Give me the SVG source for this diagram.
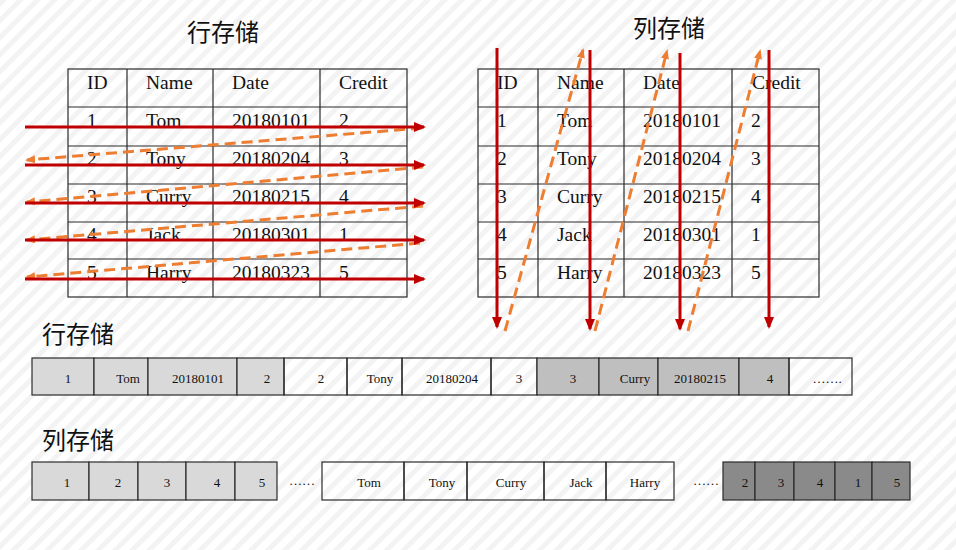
<svg xmlns="http://www.w3.org/2000/svg" width="956" height="550" viewBox="0 0 956 550">
<defs>
<pattern id="hatch" patternUnits="userSpaceOnUse" width="12" height="12" patternTransform="rotate(45)">
<rect x="0" y="0" width="5" height="12" fill="#f3f3f3"/>
</pattern>
<marker id="redArrow" viewBox="0 0 12 10" markerWidth="12" markerHeight="10" refX="10" refY="5" orient="auto" markerUnits="userSpaceOnUse">
<path d="M0,0 L12,5 L0,10 z" fill="#c00000"/>
</marker>
<marker id="orangeArrow" viewBox="0 0 10 8" markerWidth="10" markerHeight="8" refX="8" refY="4" orient="auto" markerUnits="userSpaceOnUse">
<path d="M0,0 L10,4 L0,8 z" fill="#ed7d31"/>
</marker>
</defs>
<style>
.grid{fill:none;stroke:#2b2b2b;stroke-width:1.2}
.tt{font-family:"Liberation Serif","Times New Roman",serif;font-size:19.5px;fill:#111}
.st{font-family:"Liberation Serif","Times New Roman",serif;font-size:13px;fill:#111;text-anchor:middle}
.title{font-family:"Noto Sans CJK SC","Noto Sans",sans-serif;font-size:24px;fill:#111}
.cell{stroke:#2b2b2b;stroke-width:1.2}
.g1{fill:#d9d9d9}
.g2{fill:#bfbfbf}
.g3{fill:#8a8a8a}
.w{fill:none}
.red{stroke:#c00000;stroke-width:3;fill:none;marker-end:url(#redArrow)}
.org{stroke:#ed7d31;stroke-width:3;fill:none;stroke-dasharray:11 6;marker-end:url(#orangeArrow)}
</style>
<rect width="956" height="550" fill="#ffffff"/>
<rect width="956" height="550" fill="url(#hatch)"/>

<g id="title-row-top"><text class="title" x="187" y="41">行存储</text></g>
<g id="title-col-top"><text class="title" x="633" y="37">列存储</text></g>
<g id="title-row-bottom"><text class="title" x="42" y="343">行存储</text></g>
<g id="title-col-bottom"><text class="title" x="42" y="449">列存储</text></g>

<g id="row-table">
<rect class="grid" x="68" y="69" width="339" height="228"/>
<path class="grid" d="M127,69V297M213,69V297M320,69V297M68,107H407M68,146H407M68,184H407M68,222H407M68,259H407"/>
<text class="tt" x="87" y="89">ID</text><text class="tt" x="146" y="89">Name</text><text class="tt" x="232" y="89">Date</text><text class="tt" x="339" y="89">Credit</text>
<text class="tt" x="87" y="127">1</text><text class="tt" x="146" y="127">Tom</text><text class="tt" x="232" y="127">20180101</text><text class="tt" x="339" y="127">2</text>
<text class="tt" x="87" y="165">2</text><text class="tt" x="146" y="165">Tony</text><text class="tt" x="232" y="165">20180204</text><text class="tt" x="339" y="165">3</text>
<text class="tt" x="87" y="203">3</text><text class="tt" x="146" y="203">Curry</text><text class="tt" x="232" y="203">20180215</text><text class="tt" x="339" y="203">4</text>
<text class="tt" x="87" y="241">4</text><text class="tt" x="146" y="241">Jack</text><text class="tt" x="232" y="241">20180301</text><text class="tt" x="339" y="241">1</text>
<text class="tt" x="87" y="279">5</text><text class="tt" x="146" y="279">Harry</text><text class="tt" x="232" y="279">20180323</text><text class="tt" x="339" y="279">5</text>
</g>

<g id="col-table">
<rect class="grid" x="478" y="69" width="341" height="228"/>
<path class="grid" d="M538,69V297M624,69V297M732,69V297M478,107H819M478,146H819M478,184H819M478,222H819M478,259H819"/>
<text class="tt" x="497" y="89">ID</text><text class="tt" x="557" y="89">Name</text><text class="tt" x="643" y="89">Date</text><text class="tt" x="752" y="89">Credit</text>
<text class="tt" x="497" y="127">1</text><text class="tt" x="557" y="127">Tom</text><text class="tt" x="643" y="127">20180101</text><text class="tt" x="751" y="127">2</text>
<text class="tt" x="497" y="165">2</text><text class="tt" x="557" y="165">Tony</text><text class="tt" x="643" y="165">20180204</text><text class="tt" x="751" y="165">3</text>
<text class="tt" x="497" y="203">3</text><text class="tt" x="557" y="203">Curry</text><text class="tt" x="643" y="203">20180215</text><text class="tt" x="751" y="203">4</text>
<text class="tt" x="497" y="241">4</text><text class="tt" x="557" y="241">Jack</text><text class="tt" x="643" y="241">20180301</text><text class="tt" x="751" y="241">1</text>
<text class="tt" x="497" y="279">5</text><text class="tt" x="557" y="279">Harry</text><text class="tt" x="643" y="279">20180323</text><text class="tt" x="751" y="279">5</text>
</g>

<g id="connectors">
<line class="org" x1="422" y1="128" x2="27" y2="160"/>
<line class="org" x1="423" y1="167" x2="27" y2="202"/>
<line class="org" x1="423" y1="206" x2="27" y2="240"/>
<line class="org" x1="420" y1="243" x2="27" y2="277"/>
<line class="red" x1="25" y1="127" x2="424" y2="127"/>
<line class="red" x1="25" y1="165" x2="424" y2="165"/>
<line class="red" x1="25" y1="203" x2="424" y2="203"/>
<line class="red" x1="25" y1="240" x2="424" y2="240"/>
<line class="red" x1="25" y1="279" x2="424" y2="279"/>
<line class="org" x1="505" y1="331" x2="583" y2="50"/>
<line class="org" x1="595" y1="331" x2="667" y2="51"/>
<line class="org" x1="688" y1="331" x2="760" y2="51"/>
<line class="red" x1="497" y1="48" x2="497" y2="327"/>
<line class="red" x1="590" y1="50" x2="590" y2="329"/>
<line class="red" x1="680" y1="53" x2="680" y2="329"/>
<line class="red" x1="769" y1="50" x2="769" y2="327"/>
</g>

<g id="row-strip">
<g id="rs1"><rect class="cell g1" x="32" y="358" width="62" height="37"/><text class="st" x="68" y="383">1</text></g>
<g id="rs2"><rect class="cell g1" x="94" y="358" width="54" height="37"/><text class="st" x="128" y="383">Tom</text></g>
<g id="rs3"><rect class="cell g1" x="148" y="358" width="89" height="37"/><text class="st" x="198" y="383">20180101</text></g>
<g id="rs4"><rect class="cell g1" x="237" y="358" width="47" height="37"/><text class="st" x="267" y="383">2</text></g>
<g id="rs5"><rect class="cell w" x="284" y="358" width="63" height="37"/><text class="st" x="321" y="383">2</text></g>
<g id="rs6"><rect class="cell w" x="347" y="358" width="55" height="37"/><text class="st" x="380" y="383">Tony</text></g>
<g id="rs7"><rect class="cell w" x="402" y="358" width="89" height="37"/><text class="st" x="452" y="383">20180204</text></g>
<g id="rs8"><rect class="cell w" x="491" y="358" width="46" height="37"/><text class="st" x="519" y="383">3</text></g>
<g id="rs9"><rect class="cell g2" x="537" y="358" width="62" height="37"/><text class="st" x="573" y="383">3</text></g>
<g id="rs10"><rect class="cell g2" x="599" y="358" width="59" height="37"/><text class="st" x="635" y="383">Curry</text></g>
<g id="rs11"><rect class="cell g2" x="658" y="358" width="81" height="37"/><text class="st" x="700" y="383">20180215</text></g>
<g id="rs12"><rect class="cell g2" x="739" y="358" width="50" height="37"/><text class="st" x="770" y="383">4</text></g>
<g id="rs13"><rect class="cell w" x="789" y="358" width="63" height="37"/><text class="st" x="827" y="383">…….</text></g>
</g>

<g id="col-strip">
<g id="cs1"><rect class="cell g1" x="32" y="462" width="57" height="38"/><text class="st" x="67" y="487">1</text></g>
<g id="cs2"><rect class="cell g1" x="89" y="462" width="49" height="38"/><text class="st" x="118" y="487">2</text></g>
<g id="cs3"><rect class="cell g1" x="138" y="462" width="48" height="38"/><text class="st" x="167" y="487">3</text></g>
<g id="cs4"><rect class="cell g1" x="186" y="462" width="49" height="38"/><text class="st" x="217" y="487">4</text></g>
<g id="cs5"><rect class="cell g1" x="235" y="462" width="42" height="38"/><text class="st" x="262" y="487">5</text></g>
<g id="cs-dots1"><text class="st" x="302" y="485">……</text></g>
<g id="cs6"><rect class="cell w" x="322" y="462" width="82" height="38"/><text class="st" x="369" y="487">Tom</text></g>
<g id="cs7"><rect class="cell w" x="404" y="462" width="63" height="38"/><text class="st" x="442" y="487">Tony</text></g>
<g id="cs8"><rect class="cell w" x="467" y="462" width="77" height="38"/><text class="st" x="511" y="487">Curry</text></g>
<g id="cs9"><rect class="cell w" x="544" y="462" width="62" height="38"/><text class="st" x="581" y="487">Jack</text></g>
<g id="cs10"><rect class="cell w" x="606" y="462" width="68" height="38"/><text class="st" x="645" y="487">Harry</text></g>
<g id="cs-dots2"><text class="st" x="706" y="485">……</text></g>
<g id="cs11"><rect class="cell g3" x="723" y="462" width="32" height="38"/><text class="st" x="745" y="487">2</text></g>
<g id="cs12"><rect class="cell g3" x="755" y="462" width="39" height="38"/><text class="st" x="781" y="487">3</text></g>
<g id="cs13"><rect class="cell g3" x="794" y="462" width="41" height="38"/><text class="st" x="820" y="487">4</text></g>
<g id="cs14"><rect class="cell g3" x="835" y="462" width="37" height="38"/><text class="st" x="858" y="487">1</text></g>
<g id="cs15"><rect class="cell g3" x="872" y="462" width="38" height="38"/><text class="st" x="897" y="487">5</text></g>
</g>
</svg>
